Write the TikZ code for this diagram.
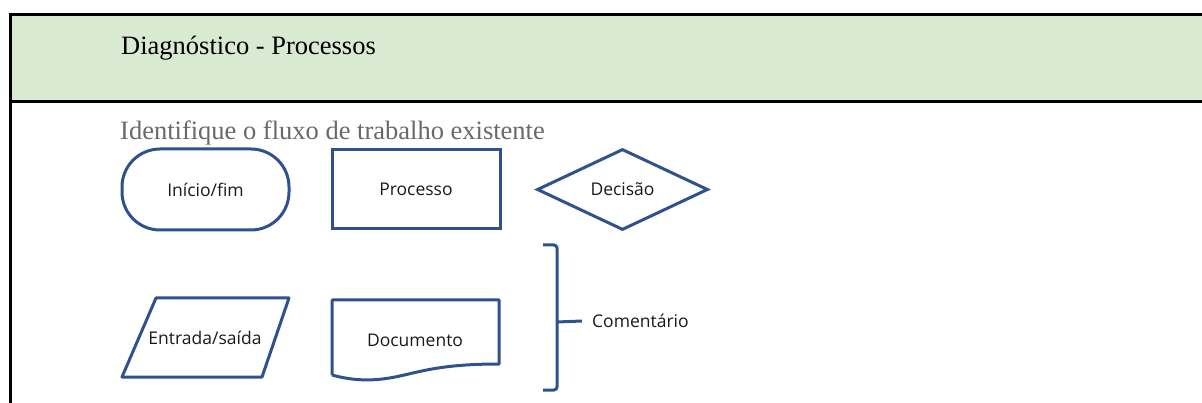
\documentclass[tikz,border=0pt]{standalone}
\usepackage{fontspec}
\setmainfont{Liberation Serif}
\newfontfamily\osans{Open Sans}
\usetikzlibrary{shapes.geometric}
\definecolor{hdrgreen}{HTML}{D9EAD3}
\definecolor{shapeblue}{RGB}{47,82,143}
\definecolor{subgray}{RGB}{105,105,105}
\tikzset{
  fc/.style={draw=shapeblue, line width=3pt, inner sep=0pt, font=\osans\fontsize{17.5}{20}\selectfont, text=black!90},
  fcline/.style={draw=shapeblue, line width=3pt, line join=round},
  lbl/.style={inner sep=0pt, font=\osans\fontsize{17.5}{20}\selectfont, text=black!90},
  tline/.style={draw=black, line width=3.5pt}
}
\begin{document}
\begin{tikzpicture}[x=1pt,y=-1pt]
\useasboundingbox (0,0) rectangle (1202,403);
% table
\fill[hdrgreen] (10.5,14.5) rectangle (1202,101.5);
\draw[tline] (1202,14.5) -- (8.75,14.5);
\draw[tline] (10.5,12.75) -- (10.5,403);
\draw[tline] (8.75,101.5) -- (1202,101.5);
\node[anchor=base west, inner sep=0pt, font=\fontsize{26.5}{30}\selectfont] (title) at (121,55) {Diagnóstico - Processos};
\node[anchor=base west, inner sep=0pt, text=subgray, font=\fontsize{26.5}{30}\selectfont] (sub) at (120,140) {Identifique o fluxo de trabalho existente};
% shapes row 1
\node[fc, rectangle, rounded corners=38pt, minimum width=167pt, minimum height=81pt] (start) at (205.5,189.5) {Início/fim};
\node[fc, rectangle, minimum width=168pt, minimum height=79pt] (proc) at (416,189.5) {Processo};
\node[fc, diamond, minimum width=171pt, minimum height=81pt] (dec) at (622.5,189.5) {Decisão};
% row 2
\node[lbl] (io) at (205,338) {Entrada/saída};
\draw[fcline] (156,298) -- (289,298) -- (262,377) -- (122,377) -- cycle;
\node[lbl] (doc) at (415,340) {Documento};
\draw[fcline] (332,375) -- (332,300) -- (499,300) -- (499,364)
   .. controls (440,364) and (420,372) .. (395,377)
   .. controls (370,382) and (350,380) .. (332,375);
% bracket
\coordinate (brk) at (557,322);
\node[lbl, anchor=west] (com) at (592,321) {Comentário};
\draw[fcline, rounded corners=3pt] (543,245) -- (557,245) -- (557,390) -- (543,390);
\draw[fcline] (brk) -- ([xshift=-10pt]com.west);
\end{tikzpicture}
\end{document}
